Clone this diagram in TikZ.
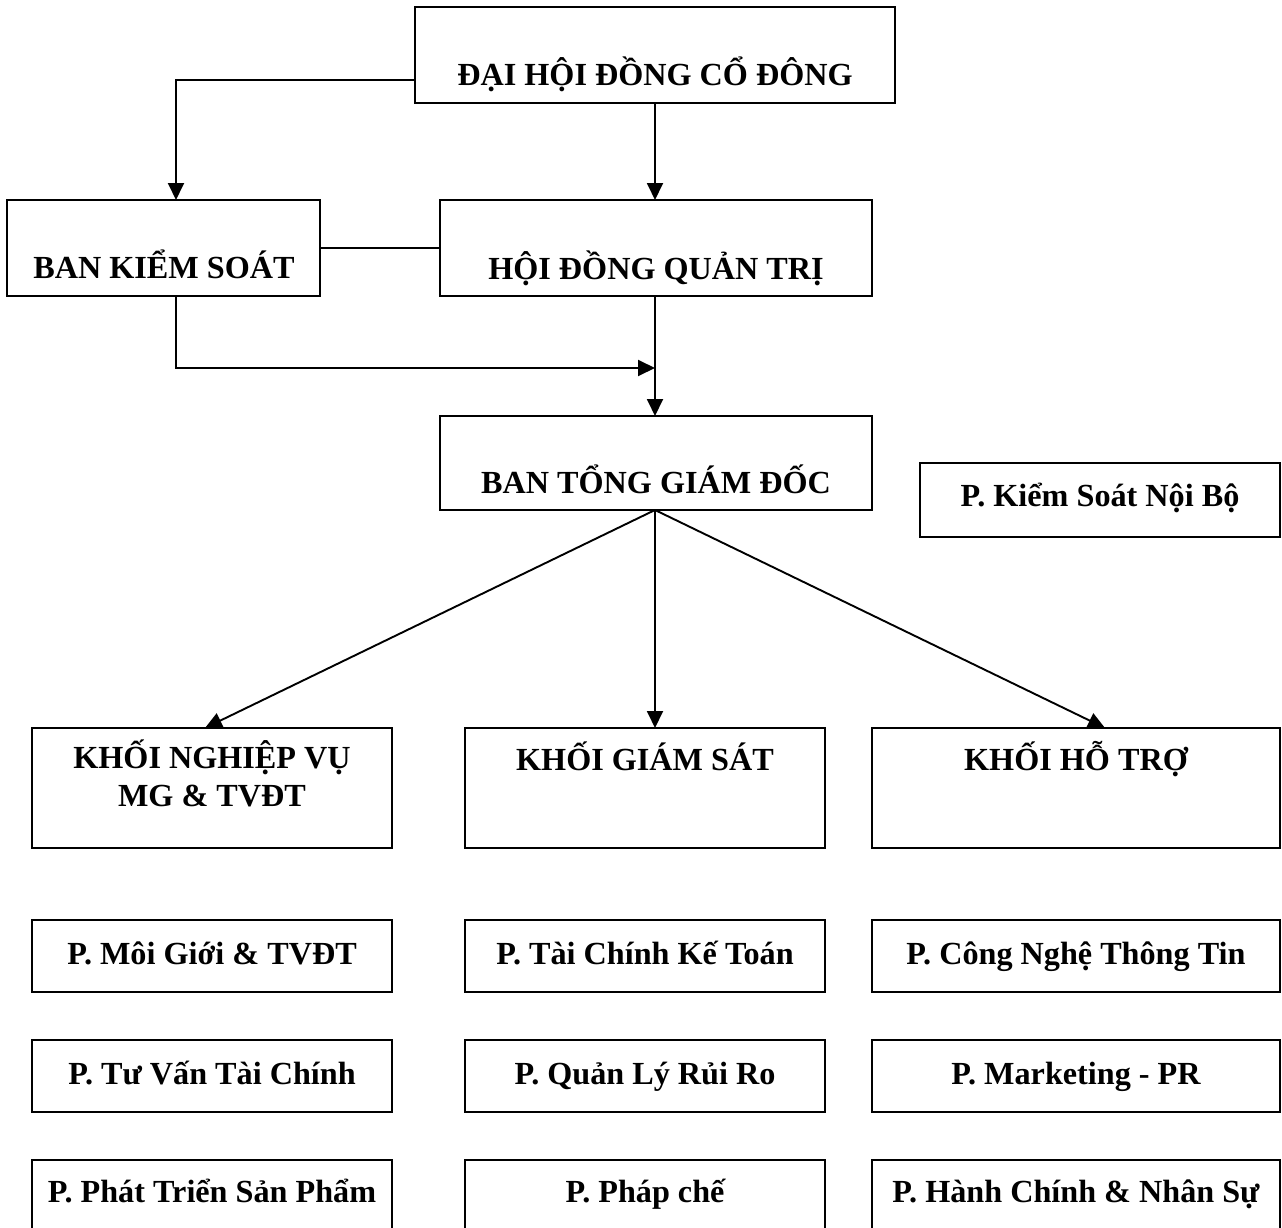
\documentclass[tikz,border=0pt]{standalone}
\usepackage{fontspec}
\setmainfont{Liberation Serif}
\usetikzlibrary{arrows.meta}
\begin{document}
\begin{tikzpicture}[x=1pt,y=-1pt,
  box/.style={draw,line width=2.8pt,rectangle,inner sep=0pt,outer sep=0pt},
  lbl/.style={anchor=base,inner sep=0pt,font=\bfseries\fontsize{32.2}{37}\selectfont},
  conn/.style={line width=1.9pt},
  arr/.style={conn,-{Triangle[length=17pt,width=16pt]}}]
\useasboundingbox (0,0) rectangle (1282,1228);
\clip (0,0) rectangle (1282,1228);
\fill[white] (0,0) rectangle (1282,1228);
% boxes
\node[box,minimum width=480pt,minimum height=96pt] (dh) at (655,55) {};
\node[box,minimum width=313pt,minimum height=96pt] (bks) at (163.5,248) {};
\node[box,minimum width=432pt,minimum height=96pt] (hdqt) at (656,248) {};
\node[box,minimum width=432pt,minimum height=94pt] (btgd) at (656,463) {};
\node[box,minimum width=360pt,minimum height=74pt] (ksnb) at (1100,500) {};
\node[box,minimum width=360pt,minimum height=120pt] (k1) at (212,788) {};
\node[box,minimum width=360pt,minimum height=120pt] (k2) at (645,788) {};
\node[box,minimum width=408pt,minimum height=120pt] (k3) at (1076,788) {};
\node[box,minimum width=360pt,minimum height=72pt] (a1) at (212,956) {};
\node[box,minimum width=360pt,minimum height=72pt] (b1) at (645,956) {};
\node[box,minimum width=408pt,minimum height=72pt] (c1) at (1076,956) {};
\node[box,minimum width=360pt,minimum height=72pt] (a2) at (212,1076) {};
\node[box,minimum width=360pt,minimum height=72pt] (b2) at (645,1076) {};
\node[box,minimum width=408pt,minimum height=72pt] (c2) at (1076,1076) {};
\node[box,minimum width=360pt,minimum height=72pt] (a3) at (212,1196) {};
\node[box,minimum width=360pt,minimum height=72pt] (b3) at (645,1196) {};
\node[box,minimum width=408pt,minimum height=72pt] (c3) at (1076,1196) {};
% texts
\node[lbl] (tdh) at (655,86) {ĐẠI HỘI ĐỒNG CỔ ĐÔNG};
\node[lbl] (tbks) at (164,278) {BAN KIỂM SOÁT};
\node[lbl] (thdqt) at (656,279) {HỘI ĐỒNG QUẢN TRỊ};
\node[lbl] (tbtgd) at (656,493) {BAN TỔNG GIÁM ĐỐC};
\node[lbl] (tksnb) at (1100,506) {P. Kiểm Soát Nội Bộ};
\node[lbl] (tk1a) at (212,768) {KHỐI NGHIỆP VỤ};
\node[lbl] (tk1b) at (212,806) {MG \& TVĐT};
\node[lbl] (tk2) at (645,770) {KHỐI GIÁM SÁT};
\node[lbl] (tk3) at (1076,770) {KHỐI HỖ TRỢ};
\node[lbl] (ta1) at (212,964) {P. Môi Giới \& TVĐT};
\node[lbl] (tb1) at (645,964) {P. Tài Chính Kế Toán};
\node[lbl] (tc1) at (1076,964) {P. Công Nghệ Thông Tin};
\node[lbl] (ta2) at (212,1084) {P. Tư Vấn Tài Chính};
\node[lbl] (tb2) at (645,1084) {P. Quản Lý Rủi Ro};
\node[lbl] (tc2) at (1076,1084) {P. Marketing - PR};
\node[lbl] (ta3) at (212,1202) {P. Phát Triển Sản Phẩm};
\node[lbl] (tb3) at (645,1202) {P. Pháp chế};
\node[lbl] (tc3) at (1076,1202) {P. Hành Chính \& Nhân Sự};
% connectors
\coordinate (dl) at (dh.west |- 0,80);
\coordinate (bkstop) at (176,200);
\coordinate (bksbot) at (176,296);
\coordinate (j) at (655,368);
\draw[arr] (dl) -| (bkstop);
\draw[arr] (dh.south -| 655,0) -- (hdqt.north -| 655,0);
\draw[conn] (bks.east) -- (hdqt.west);
\draw[arr] (bksbot) |- (j);
\draw[arr] (hdqt.south -| 655,0) -- (btgd.north -| 655,0);
\coordinate (bs) at (btgd.south -| 655,0);
\draw[arr] (bs) -- (k1.north -| 205,0);
\draw[arr] (bs) -- (k2.north -| 655,0);
\draw[arr] (bs) -- (k3.north -| 1105,0);
\end{tikzpicture}
\end{document}
